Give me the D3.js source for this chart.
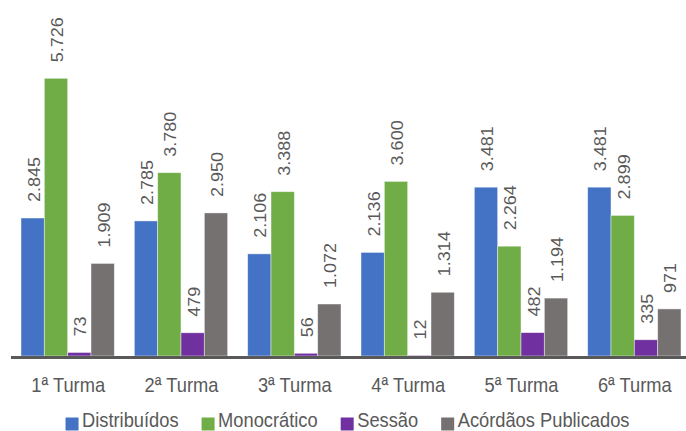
<!DOCTYPE html>
<html><head><meta charset="utf-8">
<script src="https://cdn.jsdelivr.net/npm/d3@7"></script>
<style>
html,body{margin:0;padding:0;background:#fff;}
svg{display:block;}
text{font-family:"Liberation Sans",Arial,sans-serif;fill:#595959;}
</style></head>
<body>
<svg id="chart" width="686" height="431"></svg>
<script>
const categories = ["1ª Turma","2ª Turma","3ª Turma","4ª Turma","5ª Turma","6ª Turma"];
const seriesNames = ["Distribuídos","Monocrático","Sessão","Acórdãos Publicados"];
const distribuidos = [2845, 2785, 2106, 2136, 3481, 3481];
const monocratico = [5726, 3780, 3388, 3600, 2264, 2899];
const sessao = [73, 479, 56, 12, 482, 335];
const acordaos = [1909, 2950, 1072, 1314, 1194, 971];
const colors = ["#4472C4","#70AD47","#7030A0","#767171"];

const seriesValues = [distribuidos, monocratico, sessao, acordaos];
const fmt = v => d3.format(",")(v).replace(/,/g, ".");

const svg = d3.select("#chart");
const left = 11, right = 691, base = 356;
const x0 = d3.scaleBand().domain(categories).range([left, right])
  .paddingInner(0.1765).paddingOuter(0.0882);
const x1 = d3.scaleBand().domain(seriesNames).range([0, x0.bandwidth()]);
const y = d3.scaleLinear().domain([0, 6000]).range([base, 65]);

const data = [];
categories.forEach((c, i) => seriesNames.forEach((s, j) => data.push({c, s, j, v: seriesValues[j][i]})));

const g = svg.append("g");
g.selectAll("rect.bar").data(data).join("rect")
  .attr("class","bar")
  .attr("x", d => x0(d.c) + x1(d.s))
  .attr("y", d => y(d.v))
  .attr("width", x1.bandwidth())
  .attr("height", d => y(0) - y(d.v))
  .attr("fill", d => colors[d.j])
  .attr("stroke", "rgba(255,255,255,0.55)")
  .attr("stroke-width", 0.8);

// value labels
g.selectAll("text.val").data(data).join("text")
  .attr("class","val")
  .attr("transform", d => `translate(${x0(d.c) + x1(d.s) + x1.bandwidth()/2 + 1},${y(d.v) - 16}) scale(1,1.06) rotate(-90)`)
  .attr("dy", "0.35em")
  .attr("text-anchor", "start")
  .style("font-size", "17px")
  .text(d => fmt(d.v));

// axis line
svg.append("line")
  .attr("x1", left).attr("x2", 686)
  .attr("y1", base + 1.5).attr("y2", base + 1.5)
  .attr("stroke", "#595959").attr("stroke-width", 3);

// category labels
svg.selectAll("text.cat").data(categories).join("text")
  .attr("class","cat")
  .attr("transform", d => `translate(${x0(d) + x0.bandwidth()/2 + 0.5},392) scale(1,1.1)`)
  .attr("text-anchor","middle")
  .style("font-size","18.3px")
  .text(d => d);

// legend
const lg = svg.append("g");
const items = lg.selectAll("g.item").data(seriesNames).join("g").attr("class","item");
items.append("rect").attr("width",13).attr("height",13).attr("y",-9.5).attr("fill",(d,i)=>colors[i]);
items.append("text").attr("x",16.5).attr("transform","scale(1,1.08)").style("font-size","18.3px").text(d=>d);
let cx = 0;
const pos = [];
items.each(function(d){
  const w = 16.5 + d3.select(this).select("text").node().getComputedTextLength();
  pos.push(cx); cx += w + 23;
});
const total = cx - 23;
const startX = 347.5 - total/2;
items.attr("transform",(d,i)=>`translate(${startX + pos[i]},427)`);
</script>
</body></html>
